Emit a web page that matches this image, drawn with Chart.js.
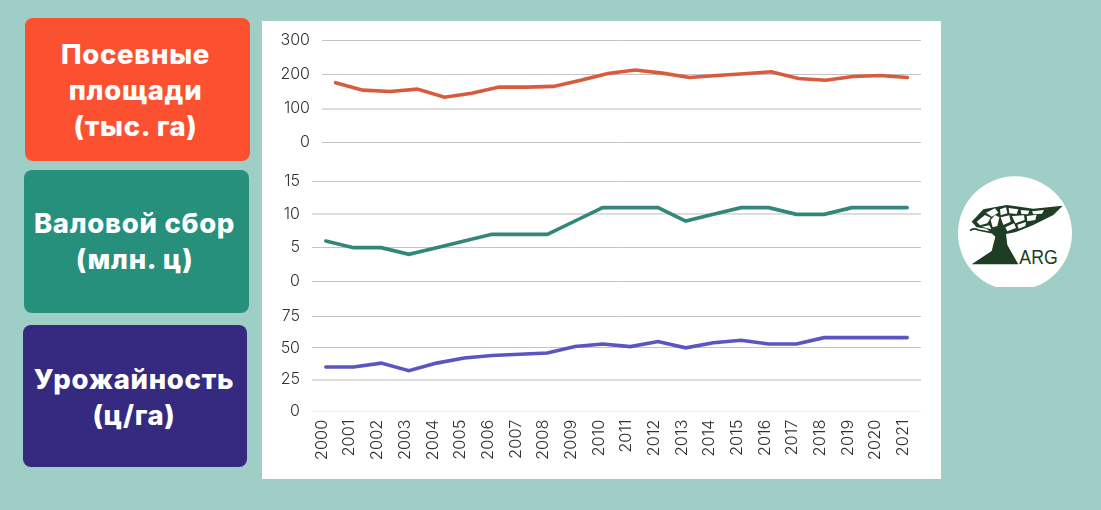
<!DOCTYPE html>
<html lang="ru">
<head>
<meta charset="utf-8">
<script src="https://cdn.jsdelivr.net/npm/chart.js@4"></script>
<style>
html,body{margin:0;padding:0;width:1101px;height:510px;overflow:hidden;background:#9fcec6;font-family:Inter,"Noto Sans",sans-serif}
.box{position:absolute;border-radius:8px;color:#fff;font-weight:800;font-size:27.5px;line-height:36px;text-align:center;box-sizing:border-box;white-space:pre-line;letter-spacing:.7px}
#panel{position:absolute;left:262px;top:21px;width:679px;height:458px;background:#fff}
canvas{position:absolute}
#logo{position:absolute;left:950px;top:170px}
</style>
</head>
<body>
<div class="box" style="left:25px;top:18px;width:225px;height:143px;background:#fc5130;padding:18px 4px 0 0">Посевные
площади
(тыс. га)</div>
<div class="box" style="left:24px;top:170px;width:225px;height:143px;background:#26907d;padding:35px 4px 0 0">Валовой сбор
(млн. ц)</div>
<div class="box" style="left:23px;top:325px;width:224px;height:142px;background:#352a7f;padding:36px 2px 0 0">Урожайность
(ц/га)</div>
<div id="panel"></div>
<canvas id="c1" style="left:262px;top:30px"></canvas>
<canvas id="c2" style="left:262px;top:170px"></canvas>
<canvas id="c3" style="left:262px;top:305px"></canvas>
<svg id="logo" width="130" height="125" viewBox="0 0 390 375">
<defs><clipPath id="cut"><rect x="0" y="0" width="390" height="351"/></clipPath></defs>
<circle cx="195" cy="190" r="171" fill="#fff" clip-path="url(#cut)"/>
<path d="M65 155L100 118L170 105L250 116L338 107L310 135L250 165L195 187L168 192L172 225L205 283L65 283L125 243L136 200L110 176L80 172Z" fill="#1e3d22"/>
<path d="M60 182Q70 172 85 180L125 188" stroke="#1e3d22" stroke-width="5" fill="none"/>
<g fill="#fff">
<path d="M80 155L105 135L122 143L112 160L90 166Z"/><path d="M108 128L135 115L145 128L125 140Z"/><path d="M122 150L135 135L148 142L142 168L128 172Z"/>
<path d="M150 118L168 112L172 130L152 136Z"/><path d="M176 114L205 118L200 132L178 130Z"/><path d="M152 142L178 136L182 155L160 165Z"/>
<path d="M186 138L222 136L224 150L196 160Z"/><path d="M212 120L238 122L234 133L214 132Z"/><path d="M230 138L260 134L256 150L232 154Z"/>
<path d="M166 172L192 160L198 174L172 184Z"/><path d="M202 164L228 156L226 168L206 176Z"/><path d="M246 124L282 120L276 131L250 133Z"/>
<path d="M95 170L118 166L124 178Z"/>
</g>
<text x="208" y="283" font-family="Liberation Sans,sans-serif" font-size="58" fill="#1e3d22" textLength="115" lengthAdjust="spacingAndGlyphs">ARG</text>
</svg>
<script>
const years = ['2000','2001','2002','2003','2004','2005','2006','2007','2008','2009','2010','2011','2012','2013','2014','2015','2016','2017','2018','2019','2020','2021'];
const sownArea = [176,154,150,157,133,145,163,163,165,183,203,213,204,191,197,202,208,188,183,194,197,191];
const grossHarvest = [6,5,5,4,5,6,7,7,7,9,11,11,11,9,10,11,11,10,10,11,11,11];
const cropYield = [35,35,38,32,38,42,44,45,46,51,53,51,55,50,54,56,53,53,58,58,58,58];

const fontFamily = 'Inter, "Noto Sans", sans-serif';
const softLines = {c1:[100], c2:[10], c3:[25]};
const faintLines = {c3:[0]};

function draw(id, label, data, colour, max, step, o) {
  const cv = document.getElementById(id);
  cv.style.width = '679px';
  cv.style.height = o.height + 'px';
  new Chart(cv, {
    type: 'line',
    data: { labels: years, datasets: [{ label, data, borderColor: colour, borderWidth: 3.6, pointRadius: 0, tension: 0, borderCapStyle: 'round', borderJoinStyle: 'miter', clip: false }] },
    options: {
      responsive: false, animation: false, devicePixelRatio: 1,
      layout: { padding: { top: o.top, bottom: o.showX ? 0 : o.height - o.bottom, right: 20, left: 0 } },
      plugins: { legend: { display: false }, tooltip: { enabled: false } },
      scales: {
        x: {
          display: !!o.showX, offset: true,
          grid: { display: false }, border: { display: false },
          ticks: { color: '#333', font: { family: fontFamily, size: 16.5, weight: 300 }, minRotation: 90, maxRotation: 90, autoSkip: false, padding: 0, labelOffset: -4 },
          afterFit(s) { s.height = o.showX ? o.height - o.bottom : 0; s.paddingLeft = 0; s.paddingRight = 0; }
        },
        y: {
          min: 0, max,
          border: { display: false },
          grid: {
            drawTicks: false,
            color: c => (faintLines[id] || []).includes(c.tick.value) ? '#f0f0ee' : (softLines[id].includes(c.tick.value) ? '#dddddd' : '#c4c4c4'),
            lineWidth: c => softLines[id].includes(c.tick.value) ? 2 : 1
          },
          ticks: { stepSize: step, color: '#333', font: { family: fontFamily, size: 16, weight: 300 }, padding: o.labelGap },
          afterFit(s) { s.width = o.axisWidth; s.paddingTop = 0; s.paddingBottom = 0; }
        }
      }
    }
  });
}
draw('c1', 'Посевные площади (тыс. га)', sownArea, '#d95b3e', 300, 100, { height: 125, top: 10.5, bottom: 112.5, axisWidth: 60, labelGap: 12 });
draw('c2', 'Валовой сбор (млн. ц)', grossHarvest, '#33877a', 15, 5, { height: 122, top: 11, bottom: 111, axisWidth: 50, labelGap: 12 });
draw('c3', 'Урожайность (ц/га)', cropYield, '#5a55c0', 75, 25, { height: 170, top: 11, bottom: 106.5, axisWidth: 50, labelGap: 12, showX: true });
</script>
</body>
</html>
